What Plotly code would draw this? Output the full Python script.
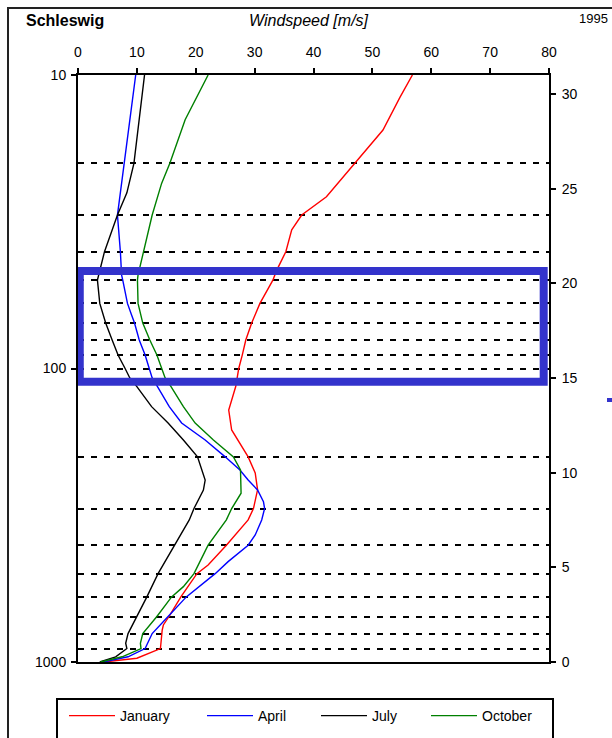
import plotly.graph_objects as go

# ---------------- data ----------------
months = ["January", "April", "July", "October"]
colors = ["#FF0000", "#0000FF", "#000000", "#008000"]

jan_p = [10, 11.9, 15.4, 20, 26, 30, 33.7, 40, 46.5, 50, 60, 70, 80, 90, 100, 115, 138.5,
         162, 200, 227, 259, 300, 328, 400, 467, 500, 599, 692, 748, 778, 900, 971, 1000]
jan_v = [56.8, 54.7, 51.8, 47.0, 42.2, 38.0, 36.3, 35.3, 33.7, 33.1, 30.9, 29.5, 28.5, 27.9,
         27.3, 26.8, 25.6, 26.1, 28.9, 30.1, 30.5, 29.8, 28.9, 25.2, 22.1, 20.2, 17.5, 15.6,
         14.5, 14.3, 14.0, 10.0, 4.4]

apr_p = [10, 14.2, 20, 30, 40, 45.1, 48, 50, 60, 65.7, 70, 80, 90, 100, 107.7, 115.3, 134.9,
         153.4, 175.2, 200, 221.7, 239.9, 259.4, 284.4, 300, 328, 369, 400, 455, 500, 600,
         700, 748, 800, 900, 960, 1000]
apr_v = [9.8, 8.8, 7.9, 6.7, 7.2, 7.3, 7.4, 7.6, 8.4, 9.1, 9.6, 10.4, 11.4, 12.1, 12.6, 13.5,
         15.5, 17.6, 21.6, 25.0, 27.5, 28.9, 30.5, 31.5, 31.7, 31.2, 30.1, 28.9, 25.5, 23.3,
         18.4, 15.3, 13.9, 12.6, 11.4, 8.5, 4.3]

jul_p = [10, 14.2, 20, 25.2, 30, 40, 45.1, 48, 50, 60, 70, 80, 90, 100, 107.7, 115.3, 134.9,
         153.4, 175.2, 200, 239.9, 259.4, 300, 328, 400, 500, 600, 700, 800, 863, 900, 960, 1000]
jul_v = [11.3, 10.4, 9.5, 8.3, 6.7, 4.5, 3.9, 3.6, 3.3, 3.7, 4.7, 5.8, 6.8, 8.0, 8.8, 10.0,
         12.5, 15.3, 17.9, 20.3, 21.6, 21.3, 19.7, 18.9, 16.4, 13.6, 11.7, 10.0, 8.5, 8.1, 8.3,
         6.4, 3.7]

oct_p = [10, 14.2, 20, 23.4, 30, 40, 45.1, 48, 50, 60, 70, 80, 90, 100, 107.7, 115.3, 134.9,
         153.4, 175.2, 200, 221.7, 266, 300, 328, 400, 500, 553.7, 600, 700, 800, 863, 900,
         960, 1000]
oct_v = [22.1, 18.2, 15.6, 14.2, 12.6, 11.1, 10.5, 10.2, 10.1, 10.2, 11.0, 12.2, 13.4, 14.2,
         14.8, 15.8, 17.9, 19.9, 23.0, 26.4, 27.6, 27.7, 26.1, 25.2, 22.1, 19.7, 17.9, 15.9,
         13.4, 11.0, 10.6, 10.7, 7.5, 3.8]

speed_ticks = [0, 10, 20, 30, 40, 50, 60, 70, 80]
pressure_ticks = [10, 100, 1000]
level_lines = [20, 30, 40, 50, 60, 70, 80, 90, 100, 200, 300, 400, 500, 600, 700, 800, 900]
alt_ticks = [0, 5, 10, 15, 20, 25, 30]

# highlighted layer (wind speed range, altitude km)
box_speed = [0.3, 79.1]
box_alt = [14.8, 20.65]

# ---------------- layout geometry ----------------
W, H = 612, 738
L, R, T, B = 78, 63, 75, 76
PW, PH = W - L - R, H - T - B


def px(xp):
    return (xp - L) / PW


def py(yp):
    return (H - B - yp) / PH


FONT = "Liberation Sans, Arial, sans-serif"

fig = go.Figure()
series = [(jan_p, jan_v), (apr_p, apr_v), (jul_p, jul_v), (oct_p, oct_v)]
legend_ids = ["legend", "legend2", "legend3", "legend4"]
for i, (name, col, (p, v)) in enumerate(zip(months, colors, series)):
    fig.add_trace(go.Scatter(x=v, y=p, mode="lines", name=name,
                             line=dict(color=col, width=1.4),
                             legend=legend_ids[i], showlegend=True))

axis_common = dict(showline=True, linecolor="black", linewidth=2, ticks="outside",
                   ticklen=5, tickwidth=1.5, tickcolor="black",
                   tickfont=dict(family=FONT, size=14, color="black"))

fig.update_layout(
    width=W, height=H,
    margin=dict(l=L, r=R, t=T, b=B, pad=0, autoexpand=False),
    showlegend=True,
    paper_bgcolor="white", plot_bgcolor="white",
    font=dict(family=FONT, size=14, color="black"),
    xaxis=dict(range=[0, 80], side="top", tickvals=speed_ticks, showgrid=False,
               zeroline=False, mirror=True, ticklabelstandoff=5, **axis_common),
    yaxis=dict(type="log", range=[3, 1], tickvals=pressure_ticks,
               ticktext=[str(t) for t in pressure_ticks],
               showgrid=True, gridcolor="black", gridwidth=1.5, griddash="6px,7px",
               minor=dict(tickvals=level_lines, showgrid=True, gridcolor="black",
                          gridwidth=1.5, griddash="6px,7px", ticks=""),
               zeroline=False, ticklabelstandoff=2, **axis_common),
    yaxis2=dict(range=[0, 31], overlaying="y", side="right", anchor="x",
                tickvals=alt_ticks, showgrid=False, zeroline=False,
                ticklabelstandoff=3, **axis_common),
)

# legends (one per entry so spacing matches the original layout)
leg_x = [64, 202, 316, 426]
for lid, xp in zip(legend_ids, leg_x):
    fig.update_layout(**{lid: dict(x=px(xp), y=py(716), xanchor="left", yanchor="middle",
                                   orientation="h", bgcolor="rgba(0,0,0,0)",
                                   font=dict(family=FONT, size=14, color="black"),
                                   itemwidth=46, visible=True)})

# highlight box
fig.add_shape(type="rect", xref="x", yref="y2", x0=box_speed[0], x1=box_speed[1],
              y0=box_alt[0], y1=box_alt[1], line=dict(color="#3333CC", width=8),
              layer="above")

# outer frame and legend frame
fig.add_shape(type="rect", xref="paper", yref="paper", x0=px(8), x1=px(640),
              y0=py(760), y1=py(8), line=dict(color="#222222", width=2), layer="below")
fig.add_shape(type="rect", xref="paper", yref="paper", x0=px(57), x1=px(553),
              y0=py(760), y1=py(699), line=dict(color="black", width=2), layer="below")
# small mark at right edge
fig.add_shape(type="rect", xref="paper", yref="paper", x0=px(607), x1=px(612),
              y0=py(402), y1=py(398), line=dict(width=0), fillcolor="#3333CC")

fig.add_annotation(text="<b>Schleswig</b>", xref="paper", yref="paper", x=px(24), y=py(21),
                   xanchor="left", yanchor="middle", showarrow=False,
                   font=dict(family=FONT, size=16, color="black"))
fig.add_annotation(text="<i>Windspeed [m/s]</i>", xref="paper", yref="paper", x=px(309),
                   y=py(21), xanchor="center", yanchor="middle", showarrow=False,
                   font=dict(family=FONT, size=16, color="black"))
fig.add_annotation(text="1995", xref="paper", yref="paper", x=px(610), y=py(19),
                   xanchor="right", yanchor="middle", showarrow=False,
                   font=dict(family=FONT, size=13, color="black"))

fig.write_html("out.html")
